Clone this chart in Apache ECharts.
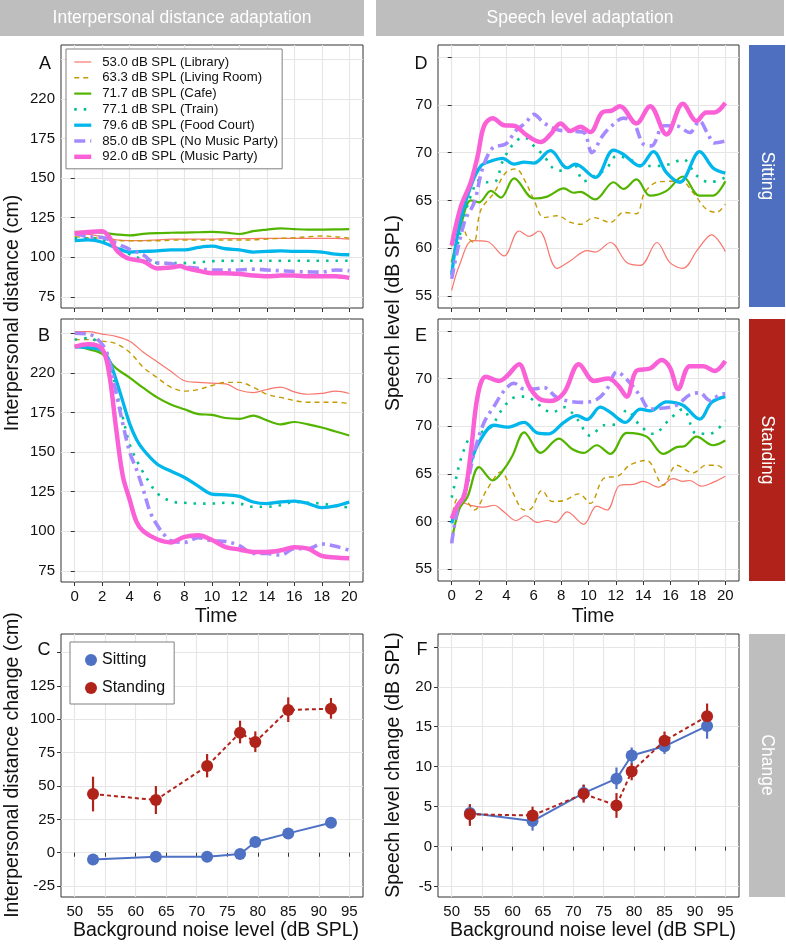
<!DOCTYPE html>
<html><head><meta charset="utf-8">
<script src="https://cdn.jsdelivr.net/npm/echarts@6/dist/echarts.min.js"></script>
<style>html,body{margin:0;padding:0;background:#fff}#c{width:786px;height:944px}</style>
</head><body><div id="c"></div>
<script>
// ---------- tick values and labels ----------
const timeTicks = [0,2,4,6,8,10,12,14,16,18,20];
const timeLabels = ['0','2','4','6','8','10','12','14','16','18','20'];
const distTicks = [75,100,125,150,175,200,225];
const distLabels = ['75','100','125','150','175','220',''];
const speechTicks = [55,60,65,70,75,80];
const speechLabels = ['55','60','65','70','70',''];
const noiseTicks = [50,55,60,65,70,75,80,85,90,95];
const noiseLabels = ['50','55','60','65','70','75','80','85','90','95'];
const distChangeTicks = [-25,0,25,50,75,100,125,150];
const distChangeLabels = ['-25','0','25','50','75','100','125',''];
const speechChangeTicks = [-5,0,5,10,15,20,25];
const speechChangeLabels = ['-5','0','5','10','15','20',''];

// ---------- categories ----------
const conditions = ['53.0 dB SPL (Library)','63.3 dB SPL (Living Room)','71.7 dB SPL (Cafe)','77.1 dB SPL (Train)','79.6 dB SPL (Food Court)','85.0 dB SPL (No Music Party)','92.0 dB SPL (Music Party)'];
const postures = ['Sitting','Standing'];
const noiseLevels = [53.0,63.3,71.7,77.1,79.6,85.0,92.0];

// ---------- A: interpersonal distance, sitting ----------
const distSitLibrary = [[0,115],[1,114.5],[2,113],[3,111],[4,110.5],[5,110.5],[6,111],[7,111.5],[8,111.5],[9,111.5],[10,111.5],[11,111.8],[12,111.8],[13,111.8],[14,112],[15,112],[16,112],[17,112],[18,112],[19,112],[20,111.5]];
const distSitLiving = [[0,113],[1,112.3],[2,112],[3,110.8],[4,110.4],[5,110.4],[6,110.4],[7,110.8],[8,110.9],[9,110.9],[10,110.9],[11,110.9],[12,110.9],[13,111],[14,111.5],[15,112],[16,112.3],[17,113],[18,113.4],[19,113],[20,112.1]];
const distSitCafe = [[0,116],[1,116],[2,115.5],[3,114.5],[4,113.8],[5,114.8],[6,115.3],[7,115.5],[8,115.6],[9,115.8],[10,116],[11,115.6],[12,114.7],[13,116.5],[14,117.5],[15,118.3],[16,117.8],[17,117.5],[18,117.5],[19,117.6],[20,117.8]];
const distSitTrain = [[0,112],[1,112],[2,111],[3,107],[4,102],[5,98.5],[5.5,97.5],[6,96.5],[7,96.3],[8,96.3],[9,96.8],[10,97.5],[11,97.8],[12,97.8],[13,97.8],[14,97.8],[15,97.8],[16,97.8],[17,97.8],[18,97.8],[19,97.8],[20,97.8]];
const distSitFood = [[0,110.5],[1,111],[2,109.5],[3,106],[4,103.3],[5,103.7],[6,104],[7,104.7],[8,104.7],[9,106.2],[10,107],[11,105.4],[12,104.7],[13,103.3],[14,103.7],[15,104],[16,103.7],[17,103.7],[18,103.3],[19,102],[20,101.6]];
const distSitNoMusic = [[0,115],[1,113],[2,112.5],[3,109],[4,105],[5,101.5],[5.5,98],[6,96.5],[7,96],[8,94],[9,93],[10,92],[11,92],[12,92],[13,92.5],[14,92],[15,91.5],[16,91],[17,90.8],[18,90.6],[19,92],[20,91.5]];
const distSitMusic = [[0,115],[1,116],[2,116.5],[2.5,113],[3,105],[3.5,101],[4,99],[5,97.5],[6,93],[7,93.5],[7.7,94.5],[8,93.5],[9,91.5],[10,90],[11,90],[12,89.5],[13,88.5],[14,88],[15,88.5],[16,88.5],[17,88],[18,88],[19,88],[20,87]];

// ---------- B: interpersonal distance, standing ----------
const distStandLibrary = [[0,226],[1,226],[2,224.5],[3,223],[4,220],[5,213],[6,207],[7,201],[8,195],[9,194],[10,193.5],[11,193],[12,189],[13,187.5],[14,189.5],[15,191],[16,188],[17,186.5],[18,187],[19,188.5],[20,187]];
const distStandLiving = [[0,221],[1,221],[2,220],[3,218.5],[4,213],[5,203.5],[6,197],[7,191],[8,188.5],[9,189.5],[10,192],[11,194],[12,194],[13,191],[14,186.5],[15,184.5],[16,182.5],[17,181.5],[18,181.5],[19,181.5],[20,180.5]];
const distStandCafe = [[0,217],[1,215],[2,212],[3,203],[4,197],[5,190.5],[6,184.5],[7,180],[8,177],[9,174],[10,173.5],[11,171.5],[12,171],[13,173],[14,170],[15,167.5],[16,169],[17,167.5],[18,165.5],[19,163],[20,160.5]];
const distStandTrain = [[0,221],[1,222],[2,217],[2.5,210],[3,190],[3.5,172],[4,155],[4.5,145],[5,137],[5.5,130],[6,124],[7,119],[8,118],[9,117.5],[10,117.5],[11,118],[12,117.5],[13,115.5],[14,115.5],[15,116.5],[16,118.5],[17,118],[18,117.5],[19,116],[20,115]];
const distStandFood = [[0,216.5],[1,216],[2,214],[2.5,208],[3,196],[3.5,182],[4,168],[4.5,158],[5,151.5],[6,142.5],[7,138],[8,134],[9,128.5],[10,123.5],[11,123],[12,122],[13,118.5],[14,117.5],[15,118.5],[16,119],[17,117.5],[18,115],[19,116],[20,118.5]];
const distStandNoMusic = [[0,225],[1,224.5],[2,218],[2.5,208],[3,188],[3.5,168],[4,150],[4.5,139],[5,126],[5.5,112],[6,104],[6.5,98],[7,94],[8,93],[9,96],[10,94],[11,93.5],[12,91],[13,86],[14,86],[15,85],[16,89],[17,89],[18,92],[19,90.5],[20,88]];
const distStandMusic = [[0,216.5],[1,218],[2,215],[2.5,200],[3,166],[3.5,135],[4,120],[4.5,106],[5,100],[6,95],[7,93],[8,96.5],[9,97.5],[10,94.5],[11,90],[12,88.5],[13,87],[14,87],[15,88],[16,90],[17,89],[18,84.5],[19,83.5],[20,83]];

// ---------- D: speech level, sitting ----------
const speechSitLibrary = [[0,55.6],[0.56,58.2],[1.53,60.8],[2.6,60.7],[3.83,59.2],[4.92,61.8],[5.65,61.25],[6.38,61.8],[7.7,57.9],[8.68,58.7],[9.9,59.75],[10.5,59.6],[11.6,60.6],[12.8,58.5],[13.8,58.2],[15,60.6],[15.95,58.5],[16.9,57.9],[18,59.9],[19,61.4],[20,59.65]];
const speechSitLiving = [[0,60.2],[0.6,63.2],[1.1,61.3],[1.6,60.6],[2.13,64],[3.1,65.8],[3.95,67.9],[4.7,68.3],[5.3,67.2],[6,65.1],[6.74,63.2],[7.7,63.4],[8.7,62.7],[9.4,62.5],[10.4,63.2],[11.6,62.7],[12.56,63.75],[13.5,63.6],[14.1,65.8],[15,66.9],[15.95,67],[16.8,67],[17.65,65.8],[18.6,64.1],[19.35,63.75],[20,64.6]];
const speechSitCafe = [[0,58.5],[0.68,62.4],[1.4,65],[2,64.8],[2.86,66],[3.6,65.3],[4.56,67.3],[6,65.2],[6.98,65.4],[8.2,66.25],[8.92,65.8],[9.4,65.9],[10.5,65.1],[11.83,66.9],[12.56,66.2],[13.5,67.2],[14.5,65.5],[15.7,66],[16.9,67.5],[18.1,65.5],[19.1,65.5],[20,67]];
const speechSitTrain = [[0,57.5],[0.7,62],[1.4,65.5],[2.1,67.2],[2.6,66.9],[3.2,67],[3.7,69],[4.56,71],[5.3,71.6],[6,70.7],[6.74,69.65],[7.47,68.3],[8.2,68.1],[8.92,68.8],[9.65,67],[10.6,67.7],[11.3,68.3],[12.07,69.65],[13,69.3],[14,68.6],[15,68.6],[15.95,68.8],[16.9,69.3],[17.9,67.6],[18.86,66.9],[20,67.4]];
const speechSitFood = [[0,57.2],[0.56,62.4],[1.4,66.5],[2.13,68.6],[2.86,69.1],[3.7,69.4],[4.56,68.8],[5.3,69],[6,68.9],[7.22,70.2],[8.44,68.4],[9.04,68.8],[10.5,67.4],[11.83,70.25],[12.56,69.8],[13.77,68.6],[14.74,70.1],[15.7,67.9],[16.68,66.9],[18.13,70.1],[19.1,68.4],[20,67.85]];
const speechSitNoMusic = [[0,56.8],[0.92,62.7],[1.65,64.8],[2.25,68.3],[3,70.5],[3.95,70.9],[4.7,72.3],[5.4,73.1],[6,74],[6.74,73.1],[7.7,72.4],[8.68,72.25],[9.65,72.1],[10.25,70],[11,71.7],[11.7,72.8],[12.56,73.6],[13.3,73.1],[14,70.9],[14.6,70.7],[15.5,72.8],[16.4,72.8],[17.4,72.1],[18.1,73.3],[18.74,71.9],[19.2,71],[20,71.2]];
const speechSitMusic = [[0,60.3],[0.68,64.4],[1.4,66.9],[1.9,69.65],[2.37,72.8],[3,73.6],[3.83,72.85],[4.56,72.8],[5.5,71.8],[6.5,71.1],[7.22,71.9],[7.95,73.05],[8.68,72.25],[9.4,72.7],[10.13,72.15],[11,74.2],[11.7,74.4],[12.3,74.85],[13.5,73.05],[14.5,74.85],[15.7,71.9],[16.9,75.1],[17.9,73.3],[18.6,74.2],[19.2,74.2],[20,75.2]];

// ---------- E: speech level, standing ----------
const speechStandLibrary = [[0,60.3],[0.68,62],[1.4,61.7],[2.37,61.5],[3.1,61.7],[3.83,61],[4.7,60.1],[5.4,60.6],[6.25,59.9],[6.98,60.1],[7.6,59.9],[8.44,61],[9.65,59.7],[10.6,61.6],[11.35,61.2],[12.3,63.8],[13.3,63.9],[14,64.2],[15.1,63.6],[16.2,64.5],[16.9,64.2],[17.4,64.3],[18.25,63.7],[19.1,64.1],[20,64.75]];
const speechStandLiving = [[0,60],[0.44,62.4],[1.04,62.2],[1.65,61.2],[2.6,63.4],[3.6,65.2],[4.44,63.1],[5.3,61.2],[5.77,61.3],[6.6,63.25],[7.35,62.1],[8.2,62.2],[9.3,62.9],[10.13,61.9],[11.1,64.5],[12.2,64.8],[13,65.9],[14.25,66.4],[15.47,63.8],[16.44,65.9],[17.65,65.1],[18.6,65.9],[19.35,65.9],[20,65.35]];
const speechStandCafe = [[0,58],[0.56,61.3],[1.16,62.6],[2,65.7],[3,64.3],[3.83,65.5],[4.44,66.9],[5.3,69.35],[6.5,67.2],[7.83,68.7],[8.8,67.6],[9.65,67.2],[10.6,68],[11.6,67.1],[12.8,69.3],[14.25,68.9],[15.47,67.1],[16.44,67.8],[17,67.9],[17.9,68.9],[19.1,68],[20,68.5]];
const speechStandTrain = [[0,62.5],[0.4,65],[0.68,66.6],[1.4,69],[2.13,69.35],[2.86,69.9],[3.7,71.8],[4.56,73],[5.3,73.1],[6,72.7],[6.74,71.8],[7.35,71.45],[8.2,72],[9.16,70.75],[10.13,69],[11.1,70.1],[12.07,70.2],[12.8,71.7],[13.77,70.05],[14.74,69.2],[15.95,70.75],[16.9,71.8],[17.9,69.2],[18.86,69.2],[20,70.6]];
const speechStandFood = [[0,59.8],[0.44,61.7],[0.92,62.7],[1.4,66.2],[2.13,68.65],[3.1,70.1],[4.07,69.9],[5.3,70.4],[6.25,69.3],[7.1,69.2],[8.2,70.4],[9.16,71.1],[9.9,70.7],[10.86,72],[11.6,71.45],[12.7,70.4],[13.77,71.8],[14.5,71.6],[15.7,72.55],[16.9,72.2],[18.13,70.75],[19,72.5],[20,73.1]];
const speechStandNoMusic = [[0,57.7],[0.44,61.3],[1.04,63.4],[1.65,67.25],[2.37,70.4],[3.1,72.1],[3.83,73.7],[4.56,74.5],[5.3,73.9],[6,73.9],[6.74,74.05],[7.7,73],[8.68,72.6],[9.65,72.5],[10.6,72.8],[11.35,73.9],[12.07,75.7],[12.9,74.75],[13.77,73.2],[14.5,71.8],[15.47,71.9],[16.44,72.2],[17.4,73.3],[18.13,73.5],[18.86,72.7],[19.6,73.3],[20,73.4]];
const speechStandMusic = [[0,60.3],[0.44,61.7],[0.92,62.7],[1.4,67.25],[1.9,73.2],[2.5,75.2],[3.47,74.75],[4.07,75.3],[4.92,76.5],[5.65,74.2],[6.38,72.9],[7.22,72.65],[8.2,73.5],[9.3,76.5],[10.4,74.75],[11.47,75],[12.2,74.2],[12.8,73.1],[13.5,75.8],[14.5,76.05],[15.35,76.95],[15.95,76.15],[16.56,73.9],[17.4,76.3],[18.4,76.3],[19.2,75.8],[20,76.85]];

// ---------- C: interpersonal distance change ----------
const distChangeSit = [-5,-3,-3,-1,8,14.5,22.5];
const distChangeSitLo = [-7,-5,-5,-3,6,12.5,20.5];
const distChangeSitHi = [-3,-1,-1,1,10,16.5,24.5];
const distChangeStand = [44,39.5,65,90,83,107,108];
const distChangeStandLo = [31,29,56.5,82,75.5,98,100.5];
const distChangeStandHi = [57,50,74,99,91,116.5,116];

// ---------- F: speech level change ----------
const speechChangeSit = [4.2,3.2,6.7,8.5,11.4,12.55,15.1];
const speechChangeSitLo = [2.9,2,5.7,7.2,10.3,11.6,13.5];
const speechChangeSitHi = [5.3,4.3,7.75,9.9,12.4,13.6,16.7];
const speechChangeStand = [4.05,3.9,6.6,5.15,9.4,13.25,16.3];
const speechChangeStandLo = [2.6,2.8,5.5,3.6,8.3,12.2,14.9];
const speechChangeStandHi = [5.3,5,7.75,6.7,10.4,14.4,17.9];

// ---------- styles ----------
const FONT = 'Liberation Sans, Arial, Helvetica, sans-serif';
const condStyles = [
  {color:'#F8766D', width:1.2, type:'solid'},
  {color:'#C49A00', width:1.4, type:[5,4]},
  {color:'#53B400', width:2.2, type:'solid'},
  {color:'#00C094', width:2.6, type:[2.5,7]},
  {color:'#00B6EB', width:3.3, type:'solid'},
  {color:'#A58AFF', width:3.6, type:[11,5,3,5]},
  {color:'#FB61D7', width:4.5, type:'solid'}
];
const postureColors = ['#4E71C4','#B0231B'];
const postureLine = ['solid',[4,3]];

const distSitSeries = [distSitLibrary,distSitLiving,distSitCafe,distSitTrain,distSitFood,distSitNoMusic,distSitMusic];
const distStandSeries = [distStandLibrary,distStandLiving,distStandCafe,distStandTrain,distStandFood,distStandNoMusic,distStandMusic];
const speechSitSeries = [speechSitLibrary,speechSitLiving,speechSitCafe,speechSitTrain,speechSitFood,speechSitNoMusic,speechSitMusic];
const speechStandSeries = [speechStandLibrary,speechStandLiving,speechStandCafe,speechStandTrain,speechStandFood,speechStandNoMusic,speechStandMusic];

const grids = [
  {left:61, top:45, width:302, height:263},
  {left:61, top:319, width:302, height:263},
  {left:61, top:634, width:302, height:263},
  {left:438, top:45, width:301, height:263},
  {left:438, top:319, width:301, height:262},
  {left:438, top:634, width:301, height:263}
].map(g => Object.assign({show:true, borderColor:'#333', borderWidth:1, backgroundColor:'#fff', containLabel:false}, g));

const gridLine = {show:true, lineStyle:{color:'#E6E6E6', width:1.2}};
function axisCfg(kind, gi, min, max, ticks, labels, showLabels){
  return {
    type:'value', gridIndex:gi, min:min, max:max,
    axisLine:{show:false},
    axisTick:{show:true, customValues:ticks, length:4, lineStyle:{color:'#333', width:1}},
    axisLabel:{show:showLabels, customValues:ticks, margin: kind==='x'?7:6,
      formatter:(v)=>{const i=ticks.indexOf(v); return i<0?'':labels[i];},
      color:'#111', fontSize:15, fontFamily:FONT},
    splitLine:gridLine
  };
}
const xAxes = [
  axisCfg('x',0,-1,21,timeTicks,timeLabels,false),
  axisCfg('x',1,-1,21,timeTicks,timeLabels,true),
  axisCfg('x',2,47.75,97.25,noiseTicks,noiseLabels,true),
  axisCfg('x',3,-1,21,timeTicks,timeLabels,false),
  axisCfg('x',4,-1,21,timeTicks,timeLabels,true),
  axisCfg('x',5,47.75,97.25,noiseTicks,noiseLabels,true)
];
const yAxes = [
  axisCfg('y',0,68,234,distTicks,distLabels,true),
  axisCfg('y',1,68,234,distTicks,distLabels,true),
  axisCfg('y',2,-33.2,164,distChangeTicks,distChangeLabels,true),
  axisCfg('y',3,53.75,81.25,speechTicks,speechLabels,true),
  axisCfg('y',4,53.75,81.25,speechTicks,speechLabels,true),
  axisCfg('y',5,-6.3,26.6,speechChangeTicks,speechChangeLabels,true)
];

const series = [];
function addTimeSeries(list, axisIdx){
  list.forEach((data,i)=>{
    const st = condStyles[i];
    series.push({type:'line', name:conditions[i], xAxisIndex:axisIdx, yAxisIndex:axisIdx,
      data:data, symbol:'none', smooth:0.35, z:2+i,
      lineStyle:{color:st.color, width:st.width, type:st.type, cap:'butt'},
      itemStyle:{color:st.color}});
  });
}
addTimeSeries(distSitSeries,0);
addTimeSeries(distStandSeries,1);
addTimeSeries(speechSitSeries,3);
addTimeSeries(speechStandSeries,4);

function addChange(axisIdx, vals, lo, hi, p){
  const c = postureColors[p];
  series.push({type:'custom', name:postures[p]+' error', xAxisIndex:axisIdx, yAxisIndex:axisIdx, z:3+p,
    data: noiseLevels.map((x,i)=>[x, lo[i], hi[i]]),
    encode:{x:0, y:[1,2]},
    renderItem:(params, api)=>{
      const a = api.coord([api.value(0), api.value(1)]);
      const b = api.coord([api.value(0), api.value(2)]);
      return {type:'line', shape:{x1:a[0], y1:a[1], x2:b[0], y2:b[1]}, style:{stroke:c, lineWidth:2.2}};
    }});
  series.push({type:'line', name:postures[p], xAxisIndex:axisIdx, yAxisIndex:axisIdx, z:5+p,
    data: noiseLevels.map((x,i)=>[x, vals[i]]),
    symbol:'circle', symbolSize:12, showSymbol:true,
    lineStyle:{color:c, width:2, type:postureLine[p]},
    itemStyle:{color:c}});
}
addChange(2, distChangeSit, distChangeSitLo, distChangeSitHi, 0);
addChange(2, distChangeStand, distChangeStandLo, distChangeStandHi, 1);
addChange(5, speechChangeSit, speechChangeSitLo, speechChangeSitHi, 0);
addChange(5, speechChangeStand, speechChangeStandLo, speechChangeStandHi, 1);

const legends = [
  {
    id:'condLegend', orient:'vertical', left:66, top:49, padding:[6,4,5,6],
    backgroundColor:'#fff', borderColor:'#808080', borderWidth:1,
    itemWidth:17, itemHeight:14, itemGap:1.8, selectedMode:false,
    textStyle:{fontSize:13.2, fontFamily:FONT, color:'#111', lineHeight:14, padding:[0,0,0,6]},
    lineStyle:{width:'inherit'},
    itemStyle:{opacity:0},
    data: conditions.slice()
  },
  {
    id:'postLegend', orient:'vertical', left:70, top:642, padding:[10,9,8,15],
    backgroundColor:'#fff', borderColor:'#808080', borderWidth:1,
    itemWidth:12, itemHeight:12, itemGap:12, selectedMode:false,
    textStyle:{fontSize:16, fontFamily:FONT, color:'#111', lineHeight:16},
    data: postures.map((n)=>({name:n, icon:'circle'}))
  }
];

function txt(text, x, y, size, color, rot){
  return {type:'text', x:x, y:y, rotation:rot||0, z:100,
    style:{text:text, fill:color, font:size+'px '+FONT, align:'center', verticalAlign:'middle'}};
}
function rect(x,y,w,h,fill){
  return {type:'rect', shape:{x:x,y:y,width:w,height:h}, style:{fill:fill}, z:90};
}
const graphic = [
  rect(0,0,364,36,'#BEBEBE'), txt('Interpersonal distance adaptation',182,18,17.5,'#fff'),
  rect(376,0,408,36,'#BEBEBE'), txt('Speech level adaptation',580,18,17.5,'#fff'),
  rect(749,45,36,262,'#4E6EC0'), txt('Sitting',767,176,17.5,'#fff',-Math.PI/2),
  rect(749,319,36,262,'#B0221A'), txt('Standing',767,450,17.5,'#fff',-Math.PI/2),
  rect(749,634,36,263,'#BEBEBE'), txt('Change',767,765,17.5,'#fff',-Math.PI/2),
  txt('Interpersonal distance (cm)',13,313,19.5,'#111',Math.PI/2),
  txt('Speech level (dB SPL)',394,313,19.5,'#111',Math.PI/2),
  txt('Interpersonal distance change (cm)',13,765,19.5,'#111',Math.PI/2),
  txt('Speech level change (dB SPL)',394,765,19.5,'#111',Math.PI/2),
  txt('Time',216,617,19.5,'#111'),
  txt('Time',593,617,19.5,'#111'),
  txt('Background noise level (dB SPL)',216,931,19.5,'#111'),
  txt('Background noise level (dB SPL)',593,931,19.5,'#111'),
  txt('A',45,64,18,'#111'), txt('B',44,336,18,'#111'), txt('C',44,650,18,'#111'),
  txt('D',421,64,18,'#111'), txt('E',421,336,18,'#111'), txt('F',422,650,18,'#111')
];

const chart = echarts.init(document.getElementById('c'), null, {renderer:'canvas'});
chart.setOption({
  animation:false,
  backgroundColor:'#fff',
  textStyle:{fontFamily:FONT},
  grid:grids, xAxis:xAxes, yAxis:yAxes, series:series, legend:legends, graphic:graphic
});
</script></body></html>
